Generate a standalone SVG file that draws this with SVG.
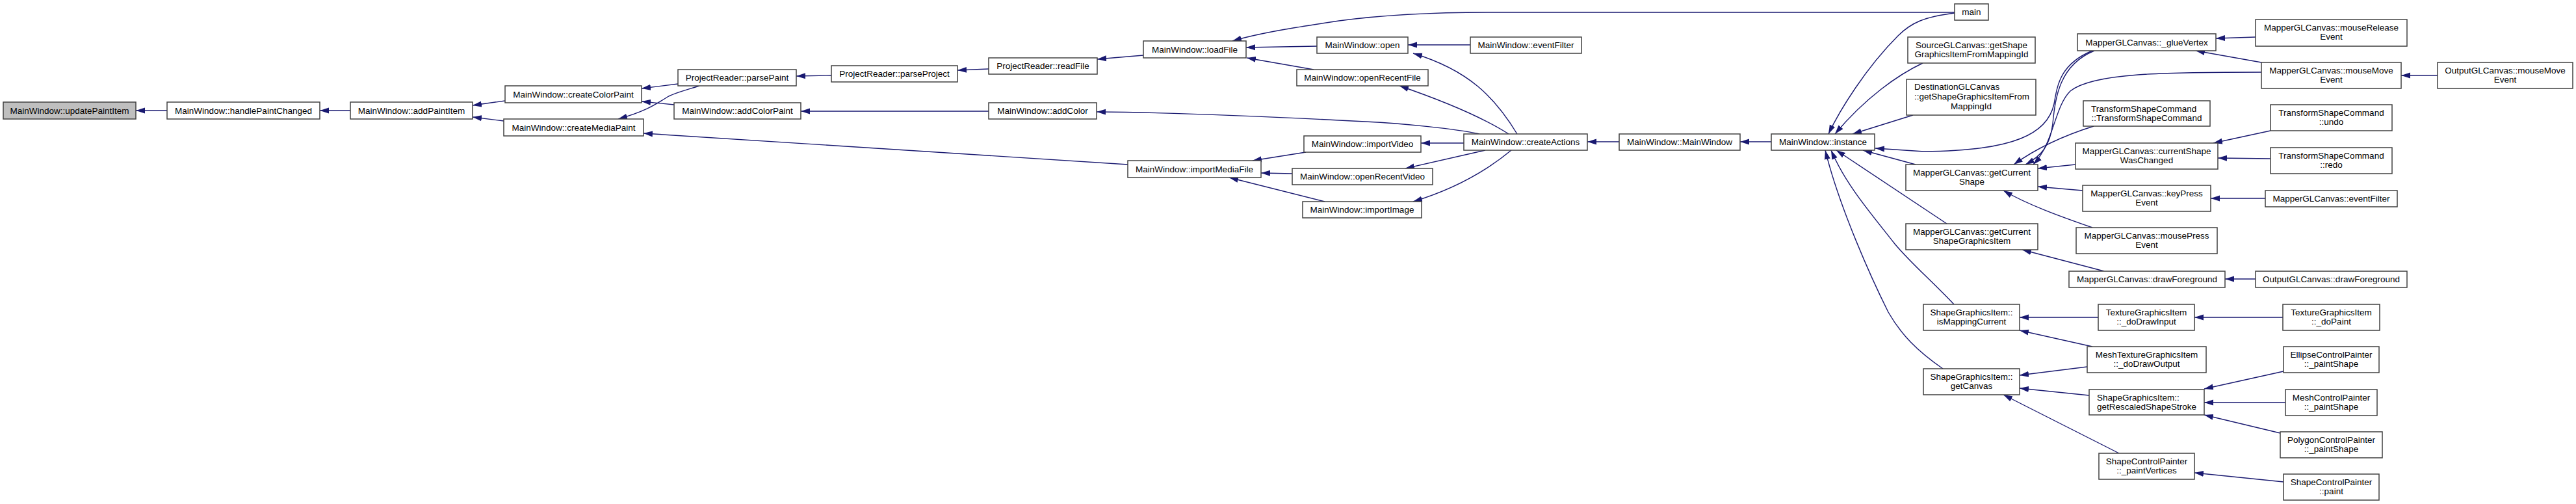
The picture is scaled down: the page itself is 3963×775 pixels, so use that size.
<svg xmlns="http://www.w3.org/2000/svg" width="3963" height="775" viewBox="0 0 3963 775">
<defs>
<style>
.n rect{fill:#fff;stroke:#404040;stroke-width:1.5}
.n text{font-family:"Liberation Sans",Arial,sans-serif;font-size:13.5px;fill:#000;text-anchor:middle}
.n text.l{text-anchor:start}
#updatePaintItem rect{fill:#bfbfbf}
.e path{fill:none;stroke:#191970;stroke-width:1.4;marker-end:url(#a)}
</style>
<marker id="a" markerUnits="userSpaceOnUse" markerWidth="14" markerHeight="10" refX="14" refY="5" orient="auto" viewBox="0 0 14 10"><path d="M0,0.5 L14,5 L0,9.5 z" fill="#191970"/></marker>
</defs>
<rect width="3963" height="775" fill="#fff"/>
<g id="edges" class="e">
<path d="M257,170 L209,170"/>
<path d="M539,170 L492,170"/>
<path d="M777,155 L727,162"/>
<path d="M775,186 L727,180"/>
<path d="M1043,129 L987,136"/>
<path d="M1037,161 L987,156"/>
<path d="M1076,132 C1050,140 1035,144 1027,149 C1005,163 990,172 951,183"/>
<path d="M1521,171 L1232,171"/>
<path d="M1735,253 L990,205"/>
<path d="M1279,116 L1225,117"/>
<path d="M1521,106 L1473,108"/>
<path d="M1759,85 L1688,91"/>
<path d="M3007,19 L2290,19 C2200,19 2120,24 2060,32 C2000,41 1940,50 1896,63"/>
<path d="M2026,71 L1917,73"/>
<path d="M2021,107 L1918,89"/>
<path d="M2276,206 C2240,198 2160,190 2100,187 C1950,179 1800,173 1687,172"/>
<path d="M2009,234 L1927,247"/>
<path d="M1988,267 L1940,266"/>
<path d="M2038,310 L1891,273"/>
<path d="M2262,69 L2166,69"/>
<path d="M2334,206 C2300,150 2260,108 2174,82"/>
<path d="M2321,206 C2280,180 2220,155 2153,132"/>
<path d="M2252,220 L2186,220"/>
<path d="M2285,231 L2162,259"/>
<path d="M2325,231 C2290,260 2240,290 2174,310"/>
<path d="M2491,218 L2442,218"/>
<path d="M2725,218 L2677,218"/>
<path d="M3007,20 C2960,26 2940,35 2920,55 C2870,105 2830,170 2813,206"/>
<path d="M2958,97 C2920,115 2870,150 2823,206"/>
<path d="M2943,177 L2850,206"/>
<path d="M2947,253 L2866,231"/>
<path d="M3219,78 C3170,98 3165,130 3160,160 C3150,205 3100,232 2960,233 L2885,228"/>
<path d="M3222,78 C3168,100 3162,150 3158,190 C3154,225 3140,240 3116,253"/>
<path d="M3479,111 C3330,111 3220,112 3185,140 C3160,165 3160,220 3128,253"/>
<path d="M3479,96 L3378,78"/>
<path d="M3470,57 L3409,59"/>
<path d="M3221,194 C3170,210 3130,230 3098,253"/>
<path d="M3193,253 L3135,259"/>
<path d="M3204,293 L3135,287"/>
<path d="M3219,350 C3170,333 3120,315 3082,293"/>
<path d="M2995,344 L2825,231"/>
<path d="M3006,468 C2970,430 2940,405 2915,375 C2880,330 2840,285 2817,231"/>
<path d="M2989,567 C2950,540 2925,515 2905,480 C2880,430 2830,320 2808,231"/>
<path d="M3237,417 L3111,384"/>
<path d="M3470,429 L3423,429"/>
<path d="M3228,488 L3107,488"/>
<path d="M3512,488 L3376,488"/>
<path d="M3219,533 L3107,508"/>
<path d="M3211,564 L3107,577"/>
<path d="M3214,608 L3107,597"/>
<path d="M3260,697 L3082,607"/>
<path d="M3513,571 L3391,598"/>
<path d="M3516,619 L3391,619"/>
<path d="M3508,666 L3391,638"/>
<path d="M3513,741 L3376,727"/>
<path d="M3750,116 L3694,116"/>
<path d="M3493,201 L3405,220"/>
<path d="M3493,244 L3412,243"/>
<path d="M3485,305 L3401,305"/>
</g>
<g id="updatePaintItem" class="n"><rect x="5" y="157" width="204" height="26"/><text x="107" y="175">MainWindow::updatePaintItem</text></g>
<g id="handlePaintChanged" class="n"><rect x="257" y="157" width="235" height="26"/><text x="374.5" y="175">MainWindow::handlePaintChanged</text></g>
<g id="addPaintItem" class="n"><rect x="539" y="157" width="188" height="26"/><text x="633" y="175">MainWindow::addPaintItem</text></g>
<g id="createColorPaint" class="n"><rect x="777" y="132" width="210" height="26"/><text x="882" y="150">MainWindow::createColorPaint</text></g>
<g id="createMediaPaint" class="n"><rect x="775" y="183" width="215" height="26"/><text x="882.5" y="201">MainWindow::createMediaPaint</text></g>
<g id="parsePaint" class="n"><rect x="1043" y="107" width="182" height="25"/><text x="1134" y="124">ProjectReader::parsePaint</text></g>
<g id="addColorPaint" class="n"><rect x="1037" y="158" width="195" height="25"/><text x="1134.5" y="175">MainWindow::addColorPaint</text></g>
<g id="parseProject" class="n"><rect x="1279" y="101" width="194" height="25"/><text x="1376" y="118">ProjectReader::parseProject</text></g>
<g id="readFile" class="n"><rect x="1521" y="89" width="167" height="25"/><text x="1604.5" y="106">ProjectReader::readFile</text></g>
<g id="addColor" class="n"><rect x="1521" y="158" width="166" height="25"/><text x="1604" y="175">MainWindow::addColor</text></g>
<g id="loadFile" class="n"><rect x="1759" y="63" width="158" height="26"/><text x="1838" y="81">MainWindow::loadFile</text></g>
<g id="importMediaFile" class="n"><rect x="1735" y="247" width="205" height="26"/><text x="1837.5" y="265">MainWindow::importMediaFile</text></g>
<g id="open" class="n"><rect x="2026" y="57" width="140" height="25"/><text x="2096" y="74">MainWindow::open</text></g>
<g id="openRecentFile" class="n"><rect x="1995" y="107" width="202" height="25"/><text x="2096" y="124">MainWindow::openRecentFile</text></g>
<g id="importVideo" class="n"><rect x="2006" y="209" width="180" height="25"/><text x="2096" y="226">MainWindow::importVideo</text></g>
<g id="openRecentVideo" class="n"><rect x="1988" y="259" width="216" height="25"/><text x="2096" y="276">MainWindow::openRecentVideo</text></g>
<g id="importImage" class="n"><rect x="2004" y="310" width="183" height="25"/><text x="2095.5" y="327">MainWindow::importImage</text></g>
<g id="mwEventFilter" class="n"><rect x="2262" y="57" width="171" height="25"/><text x="2347.5" y="74">MainWindow::eventFilter</text></g>
<g id="createActions" class="n"><rect x="2252" y="206" width="190" height="25"/><text x="2347" y="223">MainWindow::createActions</text></g>
<g id="mainWindowCtor" class="n"><rect x="2491" y="206" width="186" height="25"/><text x="2584" y="223">MainWindow::MainWindow</text></g>
<g id="instance" class="n"><rect x="2725" y="206" width="159" height="25"/><text x="2804.5" y="223">MainWindow::instance</text></g>
<g id="main" class="n"><rect x="3007" y="6" width="52" height="25"/><text x="3033" y="23">main</text></g>
<g id="srcGetShape" class="n"><rect x="2935" y="57" width="196" height="40"/><text x="3033" y="73.5">SourceGLCanvas::getShape</text><text x="3033" y="88">GraphicsItemFromMappingId</text></g>
<g id="dstGetShape" class="n"><rect x="2933" y="122" width="199" height="55"/><text class="l" x="2945" y="138">DestinationGLCanvas</text><text class="l" x="2945" y="153">::getShapeGraphicsItemFrom</text><text x="3032.5" y="168">MappingId</text></g>
<g id="getCurrentShape" class="n"><rect x="2932" y="253" width="203" height="40"/><text x="3033.5" y="269.5">MapperGLCanvas::getCurrent</text><text x="3033.5" y="284">Shape</text></g>
<g id="getCurrentShapeGraphicsItem" class="n"><rect x="2932" y="344" width="203" height="40"/><text x="3033.5" y="360.5">MapperGLCanvas::getCurrent</text><text x="3033.5" y="375">ShapeGraphicsItem</text></g>
<g id="isMappingCurrent" class="n"><rect x="2959" y="468" width="148" height="40"/><text x="3033" y="484.5">ShapeGraphicsItem::</text><text x="3033" y="499">isMappingCurrent</text></g>
<g id="getCanvas" class="n"><rect x="2959" y="567" width="148" height="40"/><text x="3033" y="583.5">ShapeGraphicsItem::</text><text x="3033" y="598">getCanvas</text></g>
<g id="glueVertex" class="n"><rect x="3196" y="52" width="213" height="26"/><text x="3302.5" y="70">MapperGLCanvas::_glueVertex</text></g>
<g id="tscCtor" class="n"><rect x="3205" y="155" width="195" height="39"/><text class="l" x="3217" y="171.5">TransformShapeCommand</text><text x="3302.5" y="186">::TransformShapeCommand</text></g>
<g id="currentShapeWasChanged" class="n"><rect x="3193" y="220" width="219" height="40"/><text x="3302.5" y="236.5">MapperGLCanvas::currentShape</text><text x="3302.5" y="251">WasChanged</text></g>
<g id="keyPressEvent" class="n"><rect x="3204" y="285" width="197" height="40"/><text x="3302.5" y="301.5">MapperGLCanvas::keyPress</text><text x="3302.5" y="316">Event</text></g>
<g id="mousePressEvent" class="n"><rect x="3194" y="350" width="217" height="40"/><text x="3302.5" y="366.5">MapperGLCanvas::mousePress</text><text x="3302.5" y="381">Event</text></g>
<g id="mapperDrawForeground" class="n"><rect x="3183" y="417" width="240" height="25"/><text x="3303" y="434">MapperGLCanvas::drawForeground</text></g>
<g id="doDrawInput" class="n"><rect x="3228" y="468" width="148" height="40"/><text x="3302" y="484.5">TextureGraphicsItem</text><text x="3302" y="499">::_doDrawInput</text></g>
<g id="doDrawOutput" class="n"><rect x="3211" y="533" width="183" height="40"/><text x="3302.5" y="549.5">MeshTextureGraphicsItem</text><text x="3302.5" y="564">::_doDrawOutput</text></g>
<g id="getRescaledShapeStroke" class="n"><rect x="3214" y="599" width="177" height="39"/><text class="l" x="3226" y="615.5">ShapeGraphicsItem::</text><text x="3302.5" y="630">getRescaledShapeStroke</text></g>
<g id="paintVertices" class="n"><rect x="3229" y="697" width="147" height="40"/><text x="3302.5" y="713.5">ShapeControlPainter</text><text x="3302.5" y="728">::_paintVertices</text></g>
<g id="mouseReleaseEvent" class="n"><rect x="3470" y="30" width="233" height="41"/><text x="3586.5" y="46.5">MapperGLCanvas::mouseRelease</text><text x="3586.5" y="61">Event</text></g>
<g id="mapperMouseMoveEvent" class="n"><rect x="3479" y="96" width="215" height="40"/><text x="3586.5" y="112.5">MapperGLCanvas::mouseMove</text><text x="3586.5" y="127">Event</text></g>
<g id="outputMouseMoveEvent" class="n"><rect x="3750" y="96" width="208" height="40"/><text x="3854" y="112.5">OutputGLCanvas::mouseMove</text><text x="3854" y="127">Event</text></g>
<g id="tscUndo" class="n"><rect x="3493" y="161" width="187" height="40"/><text x="3586.5" y="177.5">TransformShapeCommand</text><text x="3586.5" y="192">::undo</text></g>
<g id="tscRedo" class="n"><rect x="3493" y="227" width="187" height="40"/><text x="3586.5" y="243.5">TransformShapeCommand</text><text x="3586.5" y="258">::redo</text></g>
<g id="mapperEventFilter" class="n"><rect x="3485" y="293" width="203" height="25"/><text x="3586.5" y="310">MapperGLCanvas::eventFilter</text></g>
<g id="outputDrawForeground" class="n"><rect x="3470" y="417" width="233" height="25"/><text x="3586.5" y="434">OutputGLCanvas::drawForeground</text></g>
<g id="doPaint" class="n"><rect x="3512" y="468" width="149" height="40"/><text x="3586.5" y="484.5">TextureGraphicsItem</text><text x="3586.5" y="499">::_doPaint</text></g>
<g id="ellipsePaintShape" class="n"><rect x="3513" y="533" width="147" height="40"/><text x="3586.5" y="549.5">EllipseControlPainter</text><text x="3586.5" y="564">::_paintShape</text></g>
<g id="meshPaintShape" class="n"><rect x="3516" y="599" width="141" height="40"/><text x="3586.5" y="615.5">MeshControlPainter</text><text x="3586.5" y="630">::_paintShape</text></g>
<g id="polygonPaintShape" class="n"><rect x="3508" y="664" width="157" height="40"/><text x="3586.5" y="680.5">PolygonControlPainter</text><text x="3586.5" y="695">::_paintShape</text></g>
<g id="shapeControlPaint" class="n"><rect x="3513" y="729" width="147" height="40"/><text x="3586.5" y="745.5">ShapeControlPainter</text><text x="3586.5" y="760">::paint</text></g>
</svg>
